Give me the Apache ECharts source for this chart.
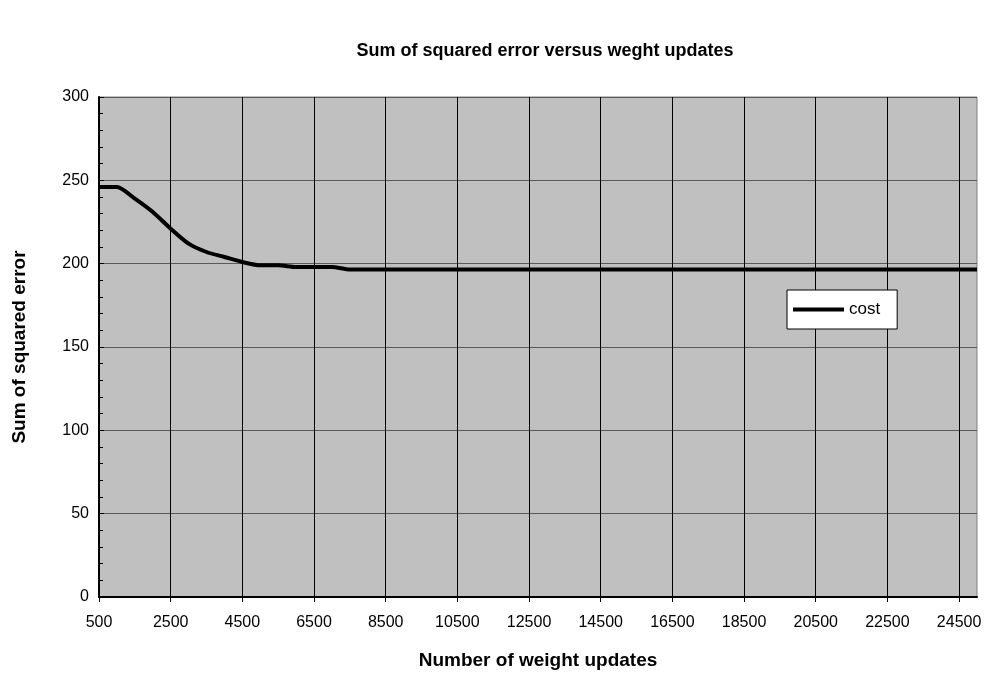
<!DOCTYPE html>
<html>
<head>
<meta charset="utf-8">
<title>Sum of squared error versus weght updates</title>
<script src="https://cdn.jsdelivr.net/npm/echarts@6/dist/echarts.min.js"></script>
<style>
  html, body { margin: 0; padding: 0; background: #fff; }
  #chart { width: 993px; height: 684px; }
</style>
</head>
<body>
<div id="chart"></div>
<script>
// weight updates (one category every 500 updates)
const updates = [
  '500', '1000', '1500', '2000', '2500', '3000', '3500', '4000', '4500', '5000',
  '5500', '6000', '6500', '7000', '7500', '8000', '8500', '9000', '9500', '10000',
  '10500', '11000', '11500', '12000', '12500', '13000', '13500', '14000', '14500', '15000',
  '15500', '16000', '16500', '17000', '17500', '18000', '18500', '19000', '19500', '20000',
  '20500', '21000', '21500', '22000', '22500', '23000', '23500', '24000', '24500', '25000'
]
// sum of squared error
const cost = [
  246, 246, 239, 231, 221, 212, 207, 204, 201, 199,
  199, 198, 198, 198, 196.5, 196.5, 196.5, 196.5, 196.5, 196.5,
  196.5, 196.5, 196.5, 196.5, 196.5, 196.5, 196.5, 196.5, 196.5, 196.5,
  196.5, 196.5, 196.5, 196.5, 196.5, 196.5, 196.5, 196.5, 196.5, 196.5,
  196.5, 196.5, 196.5, 196.5, 196.5, 196.5, 196.5, 196.5, 196.5, 196.5
]

const font = 'Liberation Sans, Arial, sans-serif'

const chart = echarts.init(document.getElementById('chart'))
chart.setOption({
  backgroundColor: '#fff',
  animation: false,
  title: {
    text: 'Sum of squared error versus weght updates',
    left: 540,
    top: 37,
    textAlign: 'center',
    textStyle: { fontFamily: font, fontSize: 18, fontWeight: 'bold', color: '#000' }
  },
  legend: {
    data: ['cost'],
    left: 787,
    top: 290,
    orient: 'vertical',
    backgroundColor: '#fff',
    borderColor: '#000',
    borderWidth: 1,
    padding: [11, 17, 11, 6],
    itemWidth: 51,
    itemHeight: 4,
    itemGap: 0,
    icon: 'rect',
    textStyle: { fontFamily: font, fontSize: 17, color: '#000' }
  },
  grid: { left: 99, right: 16, top: 97, bottom: 87, show: true, backgroundColor: '#c0c0c0', borderColor: '#808080', borderWidth: 1 },
  xAxis: {
    type: 'category',
    data: updates,
    boundaryGap: false,
    name: 'Number of weight updates',
    nameLocation: 'middle',
    nameGap: 54,
    nameTextStyle: { fontFamily: font, fontSize: 19, fontWeight: 'bold', color: '#000' },
    axisLine: { lineStyle: { color: '#000', width: 2 } },
    axisTick: { show: true, interval: 3, length: 5, lineStyle: { color: '#000' } },
    axisLabel: { interval: 3, margin: 18, fontFamily: font, fontSize: 16, color: '#000' },
    splitLine: { show: true, interval: 3, lineStyle: { color: '#000', width: 1 } }
  },
  yAxis: {
    type: 'value',
    min: 0,
    max: 300,
    interval: 50,
    name: 'Sum of squared error',
    nameLocation: 'middle',
    nameGap: 70,
    nameTextStyle: { fontFamily: font, fontSize: 19, fontWeight: 'bold', color: '#000' },
    axisLine: { show: true, lineStyle: { color: '#000', width: 2 } },
    axisTick: { show: true, inside: true, length: 5, lineStyle: { color: '#000' } },
    minorTick: { show: true, splitNumber: 5, length: 4, lineStyle: { color: '#000' } },
    axisLabel: { margin: 10, fontFamily: font, fontSize: 16, color: '#000' },
    splitLine: { show: true, lineStyle: { color: '#5a5a5a', width: 1 } }
  },
  series: [{
    name: 'cost',
    type: 'line',
    data: cost,
    showSymbol: false,
    symbol: 'none',
    smooth: 0.25,
    color: '#000',
    lineStyle: { color: '#000', width: 4 }
  }]
})
</script>
</body>
</html>
